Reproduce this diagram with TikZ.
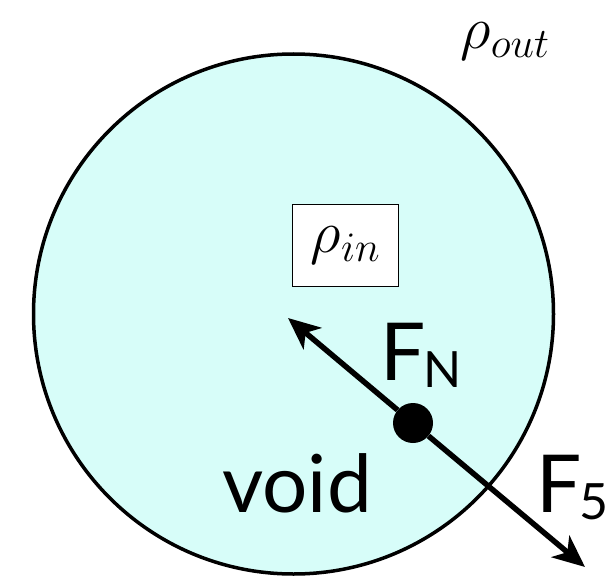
\documentclass[tikz,border=0pt]{standalone}
\usepackage{fix-cm}
\usepackage{fontspec}
\newfontfamily\gillfont{Lato}
\usetikzlibrary{arrows.meta,positioning}
\definecolor{voidCyan}{RGB}{215,253,249}
\newcommand{\lowsub}[1]{\kern-2pt\raisebox{-7pt}{\fontsize{50}{56}\selectfont #1}}

\begin{document}
\begin{tikzpicture}[x=1pt,y=-1pt,
      bubble/.style={circle,draw=black,line width=3.5pt,fill=voidCyan,minimum size=520pt,inner sep=0pt},
      dens/.style={font=\fontsize{60}{70}\selectfont,inner sep=0pt},
      word/.style={font=\gillfont\fontsize{80}{90}\selectfont,inner sep=0pt,anchor=base west},
      mass/.style={circle,fill=black,minimum size=40pt,inner sep=0pt},
      force/.style={-{Stealth[length=32pt,width=28pt,inset=9pt]},line width=5.5pt}
    ]
    \useasboundingbox (0,0) rectangle (611,578);
    \node[bubble] (void) at (293.5,314) {};
    \node[dens] (rhoout) at (505,41) {$\rho_{out}$};
    \node[dens,draw,fill=white,line width=1.5pt,minimum width=106pt,minimum height=82pt] (rhoin) at (345.5,245.5) {$\rho_{in}$};
    \node[mass] (m) at (413,423) {};
    \coordinate (fnend) at (288,318);
    \coordinate (f5end) at (585,567);
    \draw[force] (m) -- (fnend);
    \draw[force] (m) -- (f5end);
    \node[word] (fn) at (380,380) {F\lowsub{N}};
    \node[word] (f5) at (536,512) {F\lowsub{5}};
    \node[word] (voidlbl) at (222,512) {void};
  \end{tikzpicture}
\end{document}
